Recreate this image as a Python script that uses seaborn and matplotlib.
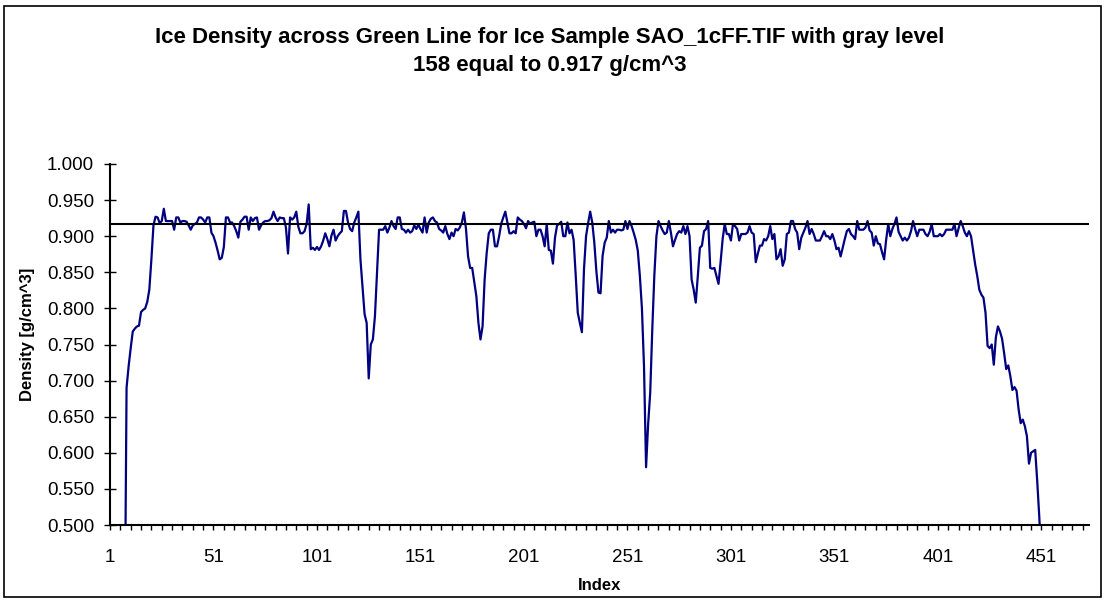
import matplotlib
matplotlib.use("Agg")
import pandas as pd
import matplotlib.pyplot as plt
import seaborn as sns
from matplotlib.patches import Rectangle

# Density, one value per index, starting at index 8
# (index 8 and 451 lie below the 0.5 axis floor and are clipped)
FIRST_INDEX = 8
density = [
    0.300, 0.690,                                                          # 8-9
    0.720, 0.745, 0.768, 0.772, 0.775, 0.776, 0.795, 0.798, 0.800, 0.809,  # 10
    0.826, 0.868, 0.915, 0.927, 0.926, 0.918, 0.921, 0.938, 0.921, 0.921,  # 20
    0.921, 0.921, 0.909, 0.926, 0.926, 0.919, 0.921, 0.921, 0.920, 0.915,  # 30
    0.909, 0.915, 0.917, 0.919, 0.926, 0.926, 0.923, 0.919, 0.926, 0.926,  # 40
    0.905, 0.900, 0.891, 0.880, 0.868, 0.870, 0.885, 0.926, 0.926, 0.919,  # 50
    0.919, 0.914, 0.907, 0.898, 0.920, 0.923, 0.927, 0.927, 0.909, 0.926,  # 60
    0.921, 0.925, 0.926, 0.909, 0.915, 0.919, 0.921, 0.921, 0.922, 0.925,  # 70
    0.934, 0.926, 0.921, 0.926, 0.925, 0.925, 0.912, 0.876, 0.926, 0.923,  # 80
    0.926, 0.934, 0.913, 0.904, 0.904, 0.907, 0.917, 0.944, 0.882, 0.884,  # 90
    0.881, 0.885, 0.881, 0.886, 0.894, 0.904, 0.896, 0.886, 0.901, 0.909,  # 100
    0.894, 0.900, 0.904, 0.907, 0.935, 0.935, 0.919, 0.910, 0.907, 0.919,  # 110
    0.926, 0.934, 0.868, 0.830, 0.792, 0.780, 0.703, 0.750, 0.757, 0.789,  # 120
    0.850, 0.909, 0.909, 0.909, 0.914, 0.905, 0.912, 0.921, 0.914, 0.910,  # 130
    0.926, 0.926, 0.910, 0.909, 0.905, 0.909, 0.905, 0.907, 0.915, 0.910,  # 140
    0.916, 0.910, 0.905, 0.926, 0.905, 0.919, 0.924, 0.926, 0.921, 0.919,  # 150
    0.910, 0.908, 0.905, 0.914, 0.903, 0.896, 0.905, 0.900, 0.910, 0.908,  # 160
    0.912, 0.919, 0.933, 0.910, 0.872, 0.856, 0.856, 0.837, 0.817, 0.780,  # 170
    0.757, 0.775, 0.840, 0.877, 0.904, 0.909, 0.909, 0.886, 0.886, 0.900,  # 180
    0.917, 0.926, 0.934, 0.919, 0.904, 0.904, 0.907, 0.904, 0.926, 0.923,  # 190
    0.921, 0.917, 0.911, 0.921, 0.917, 0.919, 0.920, 0.900, 0.909, 0.909,  # 200
    0.900, 0.886, 0.917, 0.881, 0.880, 0.862, 0.898, 0.915, 0.917, 0.920,  # 210
    0.900, 0.900, 0.919, 0.904, 0.909, 0.895, 0.846, 0.794, 0.780, 0.767,  # 220
    0.854, 0.900, 0.918, 0.934, 0.919, 0.891, 0.851, 0.822, 0.821, 0.873,  # 230
    0.891, 0.898, 0.921, 0.905, 0.909, 0.905, 0.909, 0.909, 0.908, 0.909,  # 240
    0.921, 0.910, 0.921, 0.914, 0.905, 0.895, 0.880, 0.845, 0.800, 0.720,  # 250
    0.580, 0.640, 0.683, 0.771, 0.846, 0.900, 0.921, 0.914, 0.908, 0.903,  # 260
    0.905, 0.921, 0.905, 0.886, 0.895, 0.903, 0.907, 0.905, 0.914, 0.903,  # 270
    0.914, 0.900, 0.840, 0.826, 0.808, 0.845, 0.884, 0.887, 0.907, 0.910,  # 280
    0.921, 0.856, 0.855, 0.856, 0.845, 0.834, 0.864, 0.896, 0.917, 0.903,  # 290
    0.903, 0.894, 0.917, 0.914, 0.910, 0.894, 0.903, 0.903, 0.903, 0.905,  # 300
    0.914, 0.905, 0.903, 0.864, 0.876, 0.887, 0.887, 0.896, 0.894, 0.900,  # 310
    0.914, 0.896, 0.903, 0.868, 0.872, 0.882, 0.859, 0.868, 0.903, 0.905,  # 320
    0.921, 0.921, 0.910, 0.905, 0.882, 0.898, 0.905, 0.912, 0.921, 0.903,  # 330
    0.910, 0.903, 0.894, 0.894, 0.894, 0.900, 0.907, 0.900, 0.900, 0.896,  # 340
    0.903, 0.894, 0.882, 0.884, 0.872, 0.884, 0.896, 0.907, 0.910, 0.903,  # 350
    0.900, 0.896, 0.921, 0.909, 0.909, 0.909, 0.912, 0.921, 0.908, 0.905,  # 360
    0.887, 0.900, 0.890, 0.889, 0.878, 0.868, 0.895, 0.917, 0.900, 0.910,  # 370
    0.917, 0.926, 0.906, 0.900, 0.894, 0.898, 0.894, 0.898, 0.907, 0.921,  # 380
    0.910, 0.900, 0.909, 0.909, 0.909, 0.903, 0.900, 0.906, 0.917, 0.900,  # 390
    0.900, 0.900, 0.903, 0.900, 0.903, 0.909, 0.909, 0.909, 0.909, 0.917,  # 400
    0.900, 0.911, 0.921, 0.914, 0.905, 0.900, 0.907, 0.900, 0.880, 0.861,  # 410
    0.845, 0.826, 0.819, 0.815, 0.794, 0.748, 0.745, 0.750, 0.722, 0.760,  # 420
    0.775, 0.768, 0.758, 0.738, 0.716, 0.721, 0.706, 0.687, 0.691, 0.686,  # 430
    0.660, 0.641, 0.646, 0.637, 0.623, 0.585, 0.600, 0.602, 0.604, 0.560,  # 440
    0.510, 0.450,                                                          # 450-451
]
index = list(range(FIRST_INDEX, FIRST_INDEX + len(density)))

# gray level 158 reference density
ICE_DENSITY = 0.917

x_label_values = [1, 51, 101, 151, 201, 251, 301, 351, 401, 451]
y_ticks = [0.50, 0.55, 0.60, 0.65, 0.70, 0.75, 0.80, 0.85, 0.90, 0.95, 1.00]
LAST_CATEGORY = 474

df = pd.DataFrame({"Index": index, "Density": density})

sns.set_theme(style="white")
plt.rcParams["font.family"] = ["Liberation Sans", "DejaVu Sans"]
plt.rcParams["text.color"] = "black"

W, H = 1108, 604
fig = plt.figure(figsize=(W / 100, H / 100), dpi=100)
ax = fig.add_axes([110 / W, 1 - 525 / H, 979 / W, 361 / H])

sns.lineplot(data=df, x="Index", y="Density", color="#000080", linewidth=1.6, ax=ax)
ax.axhline(ICE_DENSITY, color="black", linewidth=1.5)

ax.set_xlim(1, LAST_CATEGORY)
ax.set_ylim(0.5, 1.0)
ax.set_yticks(y_ticks)
ax.set_yticklabels([f"{v:.3f}" for v in y_ticks])
x_ticks = list(range(1, LAST_CATEGORY + 1, 5))
ax.set_xticks(x_ticks)
ax.set_xticklabels([str(t) if t in x_label_values else "" for t in x_ticks])

ax.tick_params(axis="y", direction="inout", length=8, width=1, pad=7.5,
               labelsize=13.5, colors="black", left=True)
ax.tick_params(axis="x", direction="out", length=3.6, width=1, pad=13.5,
               labelsize=13.5, colors="black", bottom=True)

for side in ["left", "bottom"]:
    ax.spines[side].set_color("black")
    ax.spines[side].set_linewidth(1.5)
for side in ["top", "right"]:
    ax.spines[side].set_visible(False)

ax.set_xlabel("Index", fontsize=12, fontweight="bold", color="black")
ax.set_ylabel("Density [g/cm^3]", fontsize=12, fontweight="bold", color="black")
ax.xaxis.set_label_coords(0.5, -0.147)
ax.yaxis.set_label_coords(-0.077, 0.529)

fig.text(550 / W, 1 - 38 / H,
         "Ice Density across Green Line for Ice Sample SAO_1cFF.TIF with gray level",
         ha="center", va="center", fontsize=16, fontweight="bold", color="black")
fig.text(550 / W, 1 - 66 / H, "158 equal to 0.917 g/cm^3",
         ha="center", va="center", fontsize=16, fontweight="bold", color="black")

# chart area border
fig.patches.append(Rectangle((4 / W, 1 - 597 / H), 1097 / W, 591 / H,
                             transform=fig.transFigure, fill=False,
                             edgecolor="black", linewidth=1.2))

fig.savefig("out.png", dpi=100)
